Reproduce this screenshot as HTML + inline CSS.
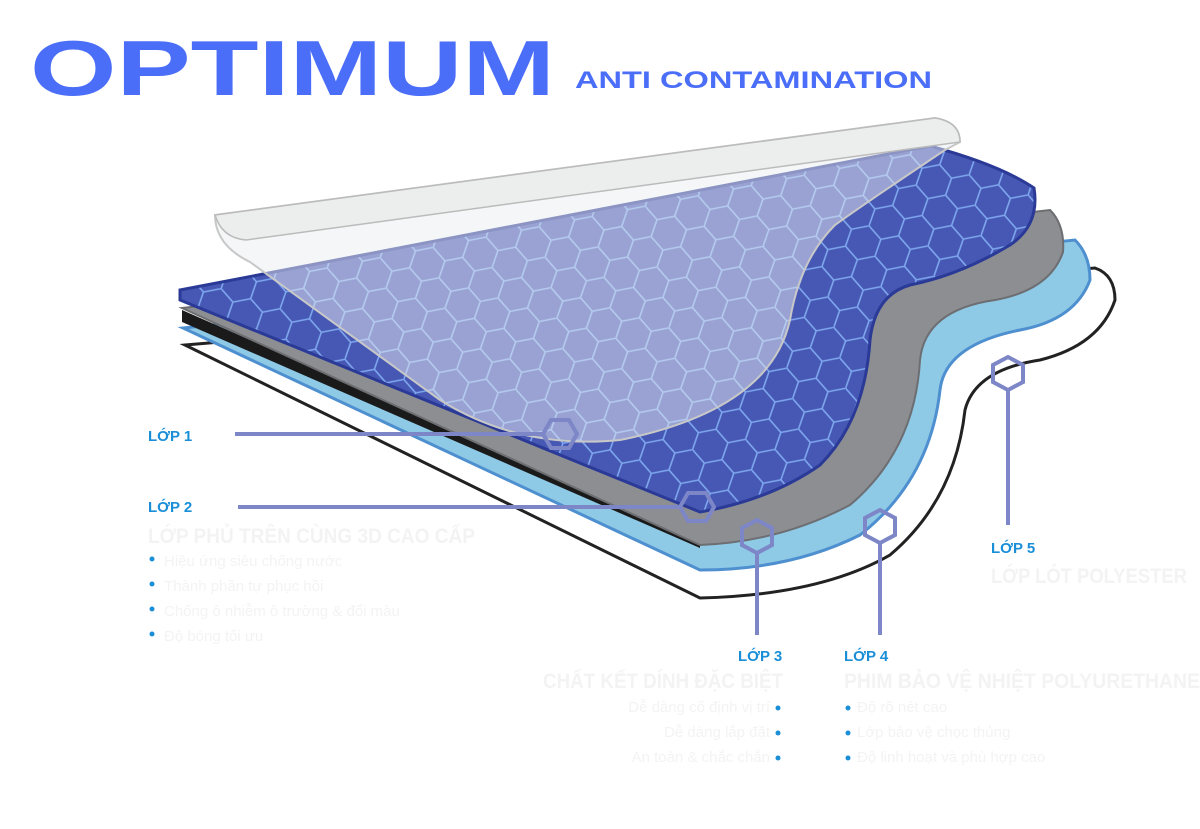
<!DOCTYPE html>
<html><head><meta charset="utf-8"><style>
html,body{margin:0;padding:0;background:#fff;}
svg{display:block}
</style></head><body>
<svg width="1200" height="829" viewBox="0 0 1200 829" xmlns="http://www.w3.org/2000/svg">
<defs>
<pattern id="hex" width="54" height="31" patternUnits="userSpaceOnUse" patternTransform="rotate(-11) ">
<path d="M0,15.5 L9,0 L27,0 L36,15.5 L27,31 L9,31 Z M36,15.5 L54,15.5" fill="none" stroke="#7fa8ee" stroke-width="1.6"/>
</pattern>
<clipPath id="blueclip"><path id="bp" d="M180,290 L930,146 Q1000,165 1034,188 Q1040,225 1010,245 Q960,275 910,285 Q875,295 870,340 Q865,420 820,465 Q770,500 700,512 L180,300 Z"/></clipPath>
</defs>

<path d="M185,345 L1095,268 Q1115,275 1115,300 Q1100,345 1040,360 Q975,370 965,410 Q955,500 890,555 Q820,595 700,598 Z" fill="#fff" stroke="#222" stroke-width="3"/>
<path d="M183,328 L1075,240 Q1090,255 1090,280 Q1075,320 1020,330 Q945,345 940,390 Q930,480 860,535 Q790,570 700,570 Z" fill="#8ec9e6" stroke="#4e8fcf" stroke-width="3"/>
<path d="M182,310 L182,322 L700,548 L700,538 Z" fill="#1a1a1a"/>
<path d="M182,308 L1050,210 Q1065,225 1063,252 Q1050,290 995,300 Q925,310 920,360 Q915,450 850,505 Q780,542 700,545 Z" fill="#8d8e92" stroke="#6d6e72" stroke-width="2"/>
<use href="#bp" fill="#4657b4"/>
<rect x="150" y="120" width="950" height="420" fill="url(#hex)" clip-path="url(#blueclip)"/>
<path d="M180,290 L930,146 Q1000,165 1034,188 Q1040,225 1010,245 Q960,275 910,285 Q875,295 870,340 Q865,420 820,465 Q770,500 700,512 L180,300 Z" fill="none" stroke="#2a3a96" stroke-width="3"/>
<path d="M215,215 L935,118 Q960,122 960,142 L945,150 Q870,200 835,225 Q800,260 790,320 Q770,410 620,440 Q520,450 440,400 L250,262 Q215,245 215,215 Z" fill="rgba(235,238,240,0.5)" stroke="#c8c8c8" stroke-width="2"/>
<path d="M215,215 L935,118 Q960,122 960,142 L246,240 Q222,238 215,215 Z" fill="#eceeee" stroke="#bbb" stroke-width="1.5"/>

<g stroke="#7d86c6" stroke-width="4" fill="none">
<line x1="235" y1="434" x2="543" y2="434"/>
<path d="M551,420 L569,420 L577,434 L569,448 L551,448 L543,434 Z"/>
<line x1="238" y1="507" x2="680" y2="507"/>
<path d="M688,493 L706,493 L714,507 L706,521 L688,521 L680,507 Z"/>
<path d="M757,520 L772,528 L772,545 L757,553 L742,545 L742,528 Z"/>
<line x1="757" y1="553" x2="757" y2="635"/>
<path d="M880,510 L895,518 L895,535 L880,543 L865,535 L865,518 Z"/>
<line x1="880" y1="543" x2="880" y2="635"/>
<path d="M1008,357 L1023,365 L1023,382 L1008,390 L993,382 L993,365 Z"/>
<line x1="1008" y1="390" x2="1008" y2="525"/>
</g>

<text x="30" y="95" font-family="Liberation Sans, sans-serif" font-weight="bold" font-size="78" fill="#4b6ef9" textLength="525" lengthAdjust="spacingAndGlyphs">OPTIMUM</text>
<text x="575" y="88" font-family="Liberation Sans, sans-serif" font-weight="bold" font-size="24" fill="#4b6ef9" textLength="357" lengthAdjust="spacingAndGlyphs">ANTI CONTAMINATION</text>

<g font-family="Liberation Sans, sans-serif" font-weight="bold" font-size="15" fill="#1a8fd8">
<text x="148" y="441">LỚP 1</text>
<text x="148" y="512">LỚP 2</text>
<text x="738" y="661">LỚP 3</text>
<text x="844" y="661">LỚP 4</text>
<text x="991" y="553">LỚP 5</text>
</g>
<g font-family="Liberation Sans, sans-serif" fill="#f3f3f3">
<text x="148" y="543" font-size="21" font-weight="bold" textLength="327" lengthAdjust="spacingAndGlyphs">LỚP PHỦ TRÊN CÙNG 3D CAO CẤP</text>
<text x="164" y="566" font-size="15">Hiệu ứng siêu chống nước</text>
<text x="164" y="591" font-size="15">Thành phần tự phục hồi</text>
<text x="164" y="616" font-size="15">Chống ô nhiễm ô trường &amp; đổi màu</text>
<text x="164" y="641" font-size="15">Độ bóng tối ưu</text>
<text x="991" y="583" font-size="21" font-weight="bold" textLength="196" lengthAdjust="spacingAndGlyphs">LỚP LÓT POLYESTER</text>
<text x="543" y="688" font-size="21" font-weight="bold" textLength="240" lengthAdjust="spacingAndGlyphs">CHẤT KẾT DÍNH ĐẶC BIỆT</text>
<text x="770" y="712" font-size="15" text-anchor="end">Dễ dàng cố định vị trí</text>
<text x="770" y="737" font-size="15" text-anchor="end">Dễ dàng lắp đặt</text>
<text x="770" y="762" font-size="15" text-anchor="end">An toàn &amp; chắc chắn</text>
<text x="844" y="688" font-size="21" font-weight="bold" textLength="356" lengthAdjust="spacingAndGlyphs">PHIM BẢO VỆ NHIỆT POLYURETHANE</text>
<text x="857" y="712" font-size="15">Độ rõ nét cao</text>
<text x="857" y="737" font-size="15">Lớp bảo vệ chọc thủng</text>
<text x="857" y="762" font-size="15">Độ linh hoạt và phù hợp cao</text>
</g>
<g fill="#1a8fd8">
<circle cx="152" cy="559" r="2.5"/><circle cx="152" cy="584" r="2.5"/><circle cx="152" cy="609" r="2.5"/><circle cx="152" cy="634" r="2.5"/>
<circle cx="778" cy="708" r="2.5"/><circle cx="778" cy="733" r="2.5"/><circle cx="778" cy="758" r="2.5"/>
<circle cx="848" cy="708" r="2.5"/><circle cx="848" cy="733" r="2.5"/><circle cx="848" cy="758" r="2.5"/>
</g>
</svg>
</body></html>
